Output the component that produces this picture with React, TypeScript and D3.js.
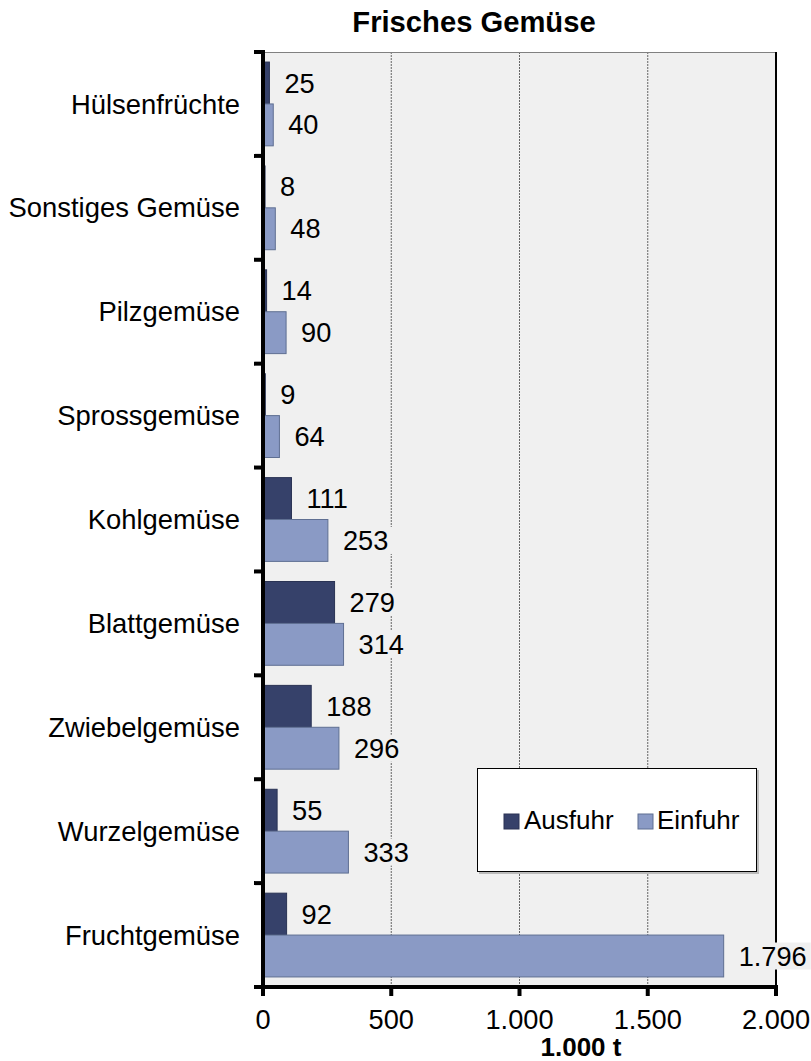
import React, { useEffect, useRef } from 'react';
import * as d3 from 'd3';

const categories = [
  'Hülsenfrüchte',
  'Sonstiges Gemüse',
  'Pilzgemüse',
  'Sprossgemüse',
  'Kohlgemüse',
  'Blattgemüse',
  'Zwiebelgemüse',
  'Wurzelgemüse',
  'Fruchtgemüse',
];
const ausfuhr = [25, 8, 14, 9, 111, 279, 188, 55, 92];
const einfuhr = [40, 48, 90, 64, 253, 314, 296, 333, 1796];
const seriesNames = ['Ausfuhr', 'Einfuhr'];
const xTicks = [0, 500, 1000, 1500, 2000];

const colors = { Ausfuhr: '#36416a', Einfuhr: '#8a9ac5' };
const strokes = { Ausfuhr: '#2a3354', Einfuhr: '#5f6f92' };

const de = d3.formatLocale({ decimal: ',', thousands: '.', grouping: [3], currency: ['', ' €'] });
const fmt = de.format(',d');

const FONT = 'Liberation Sans, Arial, sans-serif';

export default function App() {
  const svgRef = useRef(null);

  useEffect(() => {
    document.body.style.margin = '0';
    const svg = d3.select(svgRef.current);
    svg.selectAll('*').remove();

    const left = 263, right = 776, top = 52, bottom = 987;

    const x = d3.scaleLinear().domain([0, 2000]).range([left, right]);
    const y = d3.scaleBand().domain(categories).range([top, bottom]);
    const sub = d3.scaleBand().domain(seriesNames).range([0, y.bandwidth()]).paddingOuter(0.24);

    // plot background
    svg.append('rect')
      .attr('x', left).attr('y', top)
      .attr('width', right - left).attr('height', bottom - top)
      .attr('fill', '#f0f0f0');

    // gridlines
    svg.append('g')
      .selectAll('line')
      .data(xTicks.slice(1, -1))
      .join('line')
      .attr('x1', d => x(d)).attr('x2', d => x(d))
      .attr('y1', top).attr('y2', bottom)
      .attr('stroke', '#666')
      .attr('stroke-width', 1)
      .attr('stroke-dasharray', '2,1');

    // top and right borders
    svg.append('line')
      .attr('x1', left).attr('x2', right).attr('y1', top + 0.5).attr('y2', top + 0.5)
      .attr('stroke', '#808080');
    svg.append('line')
      .attr('x1', right).attr('x2', right).attr('y1', top).attr('y2', bottom)
      .attr('stroke', '#000').attr('stroke-width', 2);

    const rows = categories.map((c, i) => ({ c, Ausfuhr: ausfuhr[i], Einfuhr: einfuhr[i] }));

    const g = svg.append('g');
    const bars = [];
    rows.forEach(r => {
      seriesNames.forEach(s => {
        bars.push({ c: r.c, s, v: r[s] });
      });
    });

    g.selectAll('rect.bar')
      .data(bars)
      .join('rect')
      .attr('class', 'bar')
      .attr('x', x(0))
      .attr('y', d => y(d.c) + sub(d.s))
      .attr('width', d => x(d.v) - x(0))
      .attr('height', sub.bandwidth())
      .attr('fill', d => colors[d.s])
      .attr('stroke', d => strokes[d.s])
      .attr('stroke-width', 1);

    // value labels with background
    const labels = g.selectAll('g.lbl')
      .data(bars)
      .join('g')
      .attr('class', 'lbl');
    const texts = labels.append('text')
      .attr('x', d => x(d.v) + 15)
      .attr('y', d => y(d.c) + sub(d.s) + sub.bandwidth() / 2)
      .attr('dy', '0.35em')
      .attr('font-family', FONT)
      .attr('font-size', 27.2)
      .attr('fill', '#000')
      .text(d => fmt(d.v));
    texts.each(function () {
      const bb = this.getBBox();
      d3.select(this.parentNode).insert('rect', 'text')
        .attr('x', bb.x - 4).attr('y', bb.y + 2)
        .attr('width', bb.width + 8).attr('height', bb.height - 4)
        .attr('fill', '#f0f0f0');
    });

    // left axis
    svg.append('line')
      .attr('x1', left).attr('x2', left).attr('y1', top).attr('y2', bottom + 2)
      .attr('stroke', '#000').attr('stroke-width', 4);
    const bounds = categories.map(c => y(c)).concat([bottom]);
    svg.append('g')
      .selectAll('line')
      .data(bounds)
      .join('line')
      .attr('x1', left - 9).attr('x2', left + 2)
      .attr('y1', d => d).attr('y2', d => d)
      .attr('stroke', '#000').attr('stroke-width', 4);

    svg.append('g')
      .selectAll('text')
      .data(categories)
      .join('text')
      .attr('x', 240)
      .attr('y', d => y(d) + y.bandwidth() / 2)
      .attr('dy', '0.35em')
      .attr('text-anchor', 'end')
      .attr('font-family', FONT)
      .attr('font-size', 27.4)
      .text(d => d);

    // bottom axis
    svg.append('line')
      .attr('x1', left - 9).attr('x2', right + 2).attr('y1', bottom).attr('y2', bottom)
      .attr('stroke', '#000').attr('stroke-width', 4);
    svg.append('g')
      .selectAll('line')
      .data(xTicks)
      .join('line')
      .attr('x1', d => x(d)).attr('x2', d => x(d))
      .attr('y1', bottom).attr('y2', bottom + 9)
      .attr('stroke', '#000').attr('stroke-width', 4);
    svg.append('g')
      .selectAll('text')
      .data(xTicks)
      .join('text')
      .attr('x', d => x(d))
      .attr('y', 1029)
      .attr('text-anchor', 'middle')
      .attr('font-family', FONT)
      .attr('font-size', 27.2)
      .text(d => fmt(d));

    svg.append('text')
      .attr('x', 581).attr('y', 1056)
      .attr('text-anchor', 'middle')
      .attr('font-family', FONT)
      .attr('font-size', 26)
      .attr('font-weight', 'bold')
      .text('1.000 t');

    svg.append('text')
      .attr('x', 474).attr('y', 32)
      .attr('text-anchor', 'middle')
      .attr('font-family', FONT)
      .attr('font-size', 29.2)
      .attr('font-weight', 'bold')
      .text('Frisches Gemüse');

    // legend
    const lg = svg.append('g');
    lg.append('rect')
      .attr('x', 479).attr('y', 770).attr('width', 280).attr('height', 104)
      .attr('fill', '#bbb');
    lg.append('rect')
      .attr('x', 477.5).attr('y', 768.5).attr('width', 279).attr('height', 103)
      .attr('fill', '#fff').attr('stroke', '#000');
    const items = [
      { s: 'Ausfuhr', sx: 504, tx: 524 },
      { s: 'Einfuhr', sx: 638, tx: 657 },
    ];
    items.forEach(it => {
      lg.append('rect')
        .attr('x', it.sx).attr('y', 814).attr('width', 15).attr('height', 15)
        .attr('fill', colors[it.s]).attr('stroke', strokes[it.s]);
      lg.append('text')
        .attr('x', it.tx).attr('y', 829)
        .attr('font-family', FONT)
        .attr('font-size', 26)
        .text(it.s);
    });
  }, []);

  return <svg ref={svgRef} width={811} height={1061} style={{ display: 'block', background: '#fff' }}></svg>;
}
